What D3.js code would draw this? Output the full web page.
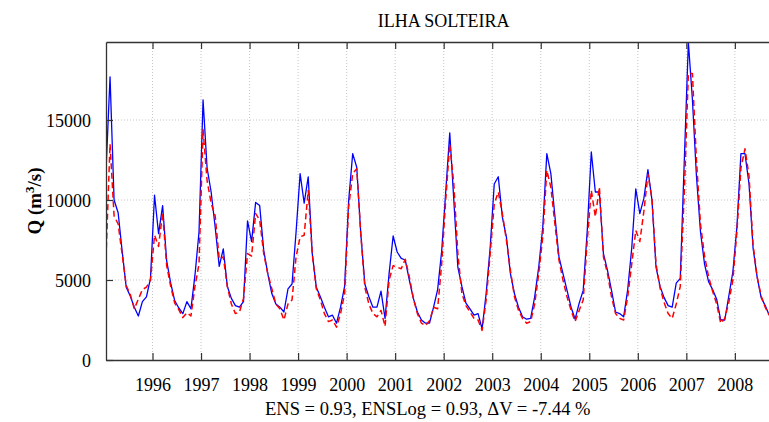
<!DOCTYPE html>
<html>
<head>
<meta charset="utf-8">
<script src="https://cdn.jsdelivr.net/npm/d3@7"></script>
<style>
  html, body { margin: 0; padding: 0; background: #fff; }
  svg { display: block; }
  text { font-family: "Liberation Serif", "Times New Roman", serif; fill: #000; }
</style>
</head>
<body>
<svg id="chart" width="769" height="422"></svg>
<script>
// ---- data (monthly, starting January 1995) ----
const startYear = 1995;
const observed = [
  11800, 17700, 10000, 9200, 6800, 4550, 4000, 3300, 2750, 3650, 3950, 5100,
  10300, 7900, 9650, 6200, 4800, 3700, 3250, 2900, 3650, 3200, 5300, 8000,
  16250, 12000, 10500, 8300, 5850, 6950, 4600, 3850, 3400, 3300, 3650, 8700,
  7400, 9850, 9650, 6850, 5400, 4150, 3500, 3300, 3000, 4450, 4750, 8000,
  11650, 9800, 11450, 6650, 4550, 3950, 3300, 2700, 2800, 2300, 3300, 4600,
  9950, 12900, 12050, 7900, 4750, 3950, 3300, 3300, 4300, 2600, 5400, 7750,
  6750, 6350, 6250, 5000, 3850, 3000, 2500, 2300, 2300, 3300, 4400, 6800,
  10500, 14200, 10000, 5800, 4600, 3550, 3200, 2800, 2900, 1950, 4150, 7050,
  11000, 11450, 8950, 7700, 5400, 4150, 3300, 2700, 2550, 2600, 3950, 5800,
  8300, 12900, 11650, 9000, 6450, 5400, 4350, 3300, 2550, 3550, 4350, 8100,
  13000, 10500, 10500, 6650, 5600, 4350, 3000, 2900, 2700, 4400, 7000, 10700,
  9150, 10100, 11900, 10000, 5800, 4600, 3900, 3400, 3300, 4800, 5100, 12500,
  19850, 16300, 11500, 8000, 6000, 4900, 4400, 3800, 2500, 2500, 4000, 5500,
  8300, 12900, 12900, 11000, 7000, 5200, 3900, 3400, 2800
];
const simulated = [
  6400, 13500, 9000, 8500, 6600, 4650, 4100, 3200, 3800, 4400, 4550, 5000,
  7800, 7100, 9200, 5900, 4600, 3550, 3150, 2650, 2950, 2750, 4600, 6000,
  14400, 11200, 9800, 9000, 6300, 6450, 4600, 3500, 2900, 3000, 3850, 6650,
  6500, 9150, 8750, 6650, 5400, 4450, 3500, 3200, 2500, 3500, 3750, 6450,
  7700, 7800, 10600, 6650, 4450, 3750, 2900, 2400, 2500, 2050, 2900, 4150,
  9550, 11650, 11950, 7900, 4550, 3500, 2900, 2700, 3100, 2100, 5000, 5900,
  5800, 5700, 6300, 5200, 3850, 2900, 2300, 2150, 2450, 3300, 3200, 6000,
  10000, 13500, 11000, 6650, 4150, 3400, 3000, 2600, 2500, 1850, 3750, 6650,
  9750, 10500, 9150, 7500, 5600, 3950, 3100, 2600, 2300, 2400, 3500, 5400,
  7700, 11850, 10800, 8500, 6250, 5000, 3950, 3100, 2400, 3100, 3750, 7500,
  10600, 8950, 10800, 6450, 5400, 3950, 2900, 2600, 2500, 3950, 6000, 8100,
  7400, 9300, 11600, 10100, 6000, 4500, 3600, 2900, 2600, 3500, 4600, 10500,
  17900, 17900, 12500, 8500, 6500, 5200, 4300, 3500, 2300, 2600, 3600, 5000,
  8000, 12000, 13200, 11500, 7200, 5200, 4000, 3300, 2800
];
const yearTicks = [1996, 1997, 1998, 1999, 2000, 2001, 2002, 2003, 2004, 2005, 2006, 2007, 2008];
const yTicks = [0, 5000, 10000, 15000];
const titleText = "ILHA SOLTEIRA";
const statsText = "ENS = 0.93, ENSLog = 0.93, \u0394V = -7.44 %";

(function () {
// ---- layout ----
const svg = d3.select("#chart");
const mLeft = 106, mTop = 42, mBottom = 360;
const xStart = startYear + 0.5 / 12, xEnd = 2008 + 11.5 / 12;
const mRight = mLeft + (xEnd - xStart) * 48.53;

const x = d3.scaleLinear().domain([xStart, xEnd]).range([mLeft, mRight]);
const y = d3.scaleLinear().domain([0, 19875]).range([mBottom, mTop]);
const t = i => startYear + (i + 0.5) / 12;

svg.append("rect").attr("width", 769).attr("height", 422).attr("fill", "#fff");

// grid
const grid = svg.append("g").attr("stroke", "#b8b8b8").attr("stroke-width", 0.8)
  .attr("stroke-dasharray", "1,2");
yearTicks.forEach(yr => {
  grid.append("line").attr("x1", x(yr)).attr("x2", x(yr)).attr("y1", mTop).attr("y2", mBottom);
});
yTicks.filter(v => v > 0).forEach(v => {
  grid.append("line").attr("x1", mLeft).attr("x2", mRight).attr("y1", y(v)).attr("y2", y(v));
});

// clip
svg.append("clipPath").attr("id", "plotclip").append("rect")
  .attr("x", mLeft).attr("y", mTop).attr("width", mRight - mLeft).attr("height", mBottom - mTop);

const line = d3.line().x((d, i) => x(t(i))).y(d => y(d));
const plot = svg.append("g").attr("clip-path", "url(#plotclip)");
plot.append("path").datum(observed).attr("d", line)
  .attr("fill", "none").attr("stroke", "#0000ff").attr("stroke-width", 1.3)
  .attr("stroke-linejoin", "round");
plot.append("path").datum(simulated).attr("d", line)
  .attr("fill", "none").attr("stroke", "#ff0000").attr("stroke-width", 1.5)
  .attr("stroke-dasharray", "6,3.5").attr("stroke-linejoin", "round");

// axes (box with inward ticks)
const axisColor = "#333";
const bottomAxis = d3.axisBottom(x).tickValues(yearTicks).tickSizeInner(-7).tickSizeOuter(0)
  .tickFormat(d3.format("d")).tickPadding(18);
const gB = svg.append("g").attr("transform", `translate(0,${mBottom})`).call(bottomAxis);
const topAxis = d3.axisTop(x).tickValues(yearTicks).tickSizeInner(-7).tickSizeOuter(0)
  .tickFormat("");
const gT = svg.append("g").attr("transform", `translate(0,${mTop})`).call(topAxis);
const leftAxis = d3.axisLeft(y).tickValues(yTicks).tickSizeInner(-7).tickSizeOuter(0)
  .tickFormat(d3.format("d")).tickPadding(15);
const gL = svg.append("g").attr("transform", `translate(${mLeft},0)`).call(leftAxis);

[gB, gT, gL].forEach(g => {
  g.select(".domain").attr("stroke", axisColor).attr("stroke-width", 1.3);
  g.selectAll(".tick line").attr("stroke", axisColor).attr("stroke-width", 1.2);
  g.selectAll(".tick text").attr("font-family", "Liberation Serif, serif")
    .attr("font-size", 18).attr("fill", "#000");
});
gL.selectAll(".tick text").attr("dy", "0.34em");

// title
svg.append("text").attr("x", (mLeft + mRight) / 2).attr("y", 27)
  .attr("text-anchor", "middle").attr("font-size", 18).text(titleText);

// y label
const yl = svg.append("text").attr("transform", `translate(41,${(mTop + mBottom) / 2}) rotate(-90)`)
  .attr("text-anchor", "middle").attr("font-size", 19).attr("font-weight", "bold");
yl.append("tspan").text("Q (m");
yl.append("tspan").attr("baseline-shift", "super").attr("font-size", 13).text("3");
yl.append("tspan").text("/s)");

// stats text
svg.append("text").attr("x", 265).attr("y", 415).attr("font-size", 18.5).text(statsText);
})();
</script>
</body>
</html>
